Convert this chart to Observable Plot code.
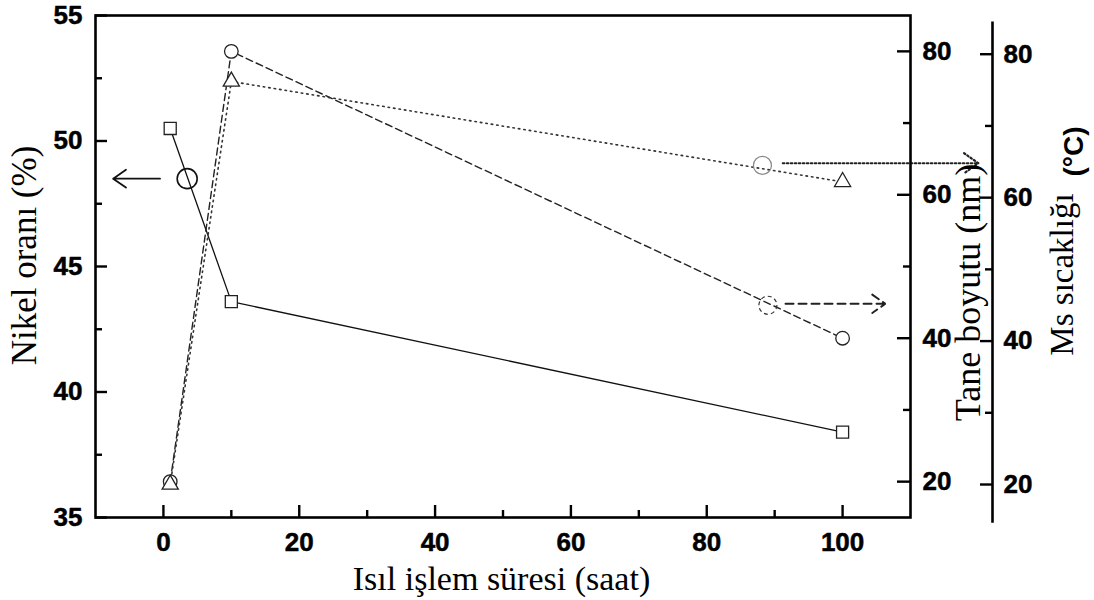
<!DOCTYPE html>
<html>
<head>
<meta charset="utf-8">
<script src="https://cdn.jsdelivr.net/npm/d3@7"></script>
<script src="https://cdn.jsdelivr.net/npm/@observablehq/plot@0.6"></script>
<style>
  html, body { margin: 0; padding: 0; background: #fff; }
  #chart svg { display: block; }
</style>
</head>
<body>
<div id="chart"></div>
<script>
// ---- data ----
const hours = [1, 10, 100];
const nickelPct = [50.5, 43.6, 38.4];      // Nikel oranı (%) - squares, solid
const grainNm = [20, 80, 40];              // Tane boyutu (nm) - circles, dashed
const msTempC = [20, 76.2, 62.2];          // Ms sıcaklığı (°C) - triangles, dotted

const xMajorTicks = [0, 20, 40, 60, 80, 100];
const xMinorTicks = [10, 30, 50, 70, 90];
const nickelMajorTicks = [35, 40, 45, 50, 55];
const nickelMinorTicks = [37.5, 42.5, 47.5, 52.5];
const nmMajorTicks = [20, 40, 60, 80];
const nmMinorTicks = [30, 50, 70];
const msMajorTicks = [20, 40, 60, 80];
const msMinorTicks = [30, 50, 70];
const msAxisExtent = [14.6, 84.5];

// annotations (data units)
const nickelMarkCircle = [{x: 3.5, y: 48.5}];
const nickelArrow = [{x1: -0.5, x2: -7.4, y: 48.5}];
const msMarkCircle = [{x: 88.2, y: 64.5}];
const msArrow = [{x1: 91.2, x2: 120.0, y: 64.8}];
const nmMarkCircle = [{x: 89.0, y: 44.6}];
const nmArrow = [{x1: 91.6, x2: 106.3, y: 44.8}];

// ---- secondary axes mapped onto the primary (Nikel %) scale ----
const nmToY = d3.scaleLinear([15, 85], [35, 55]);
const msToY = v => nmToY(v - 0.4);

const W = 1094, H = 600;
const mL = 95, mR = 184, mT = 15, mB = 83;
const PW = W - mL - mR, PH = H - mT - mB;
const MS_DX = 82;

const nickelData = hours.map((h, i) => ({h, v: nickelPct[i]}));
const nmData = hours.map((h, i) => ({h, v: nmToY(grainNm[i])}));
const msData = hours.map((h, i) => ({h, v: msToY(msTempC[i])}));

const sans = "Liberation Sans, Arial, Helvetica, sans-serif";
const serif = "Liberation Serif, Times New Roman, serif";
const tickFont = {fontSize: 26, fontWeight: "bold", fontFamily: sans, fill: "#000", stroke: "#000", strokeWidth: 0.5};

const chart = Plot.plot({
  width: W, height: H,
  marginLeft: mL, marginRight: mR, marginTop: mT, marginBottom: mB,
  style: {background: "#fff"},
  x: {domain: [-10, 110], axis: null},
  y: {domain: [35, 55], axis: null},
  marks: [
    // series lines
    Plot.line(nickelData, {x: "h", y: "v", stroke: "#111", strokeWidth: 1.3}),
    Plot.line(nmData, {x: "h", y: "v", stroke: "#222", strokeWidth: 1.4, strokeDasharray: "7,4"}),
    Plot.line(msData, {x: "h", y: "v", stroke: "#333", strokeWidth: 1.6, strokeDasharray: "1.5,4"}),
    // series markers
    Plot.dot(nmData, {x: "h", y: "v", symbol: "circle", r: 6.8, fill: "#fff", stroke: "#222", strokeWidth: 1.3}),
    Plot.dot(msData, {x: "h", y: "v", symbol: "triangle", r: 6, fill: "#fff", stroke: "#222", strokeWidth: 1.3}),
    Plot.dot(nickelData, {x: "h", y: "v", symbol: "square", r: 6.8, fill: "#fff", stroke: "#222", strokeWidth: 1.3}),
    // annotations
    Plot.dot(nickelMarkCircle, {x: "x", y: "y", r: 10, stroke: "#111", strokeWidth: 1.6, fill: "none"}),
    Plot.arrow(nickelArrow, {x1: "x1", x2: "x2", y1: "y", y2: "y", stroke: "#111", strokeWidth: 1.8, headLength: 14, headAngle: 70}),
    Plot.dot(msMarkCircle, {x: "x", y: d => msToY(d.y), r: 9, stroke: "#888", strokeWidth: 1.2, fill: "none"}),
    Plot.arrow(msArrow, {x1: "x1", x2: "x2", y1: d => msToY(d.y), y2: d => msToY(d.y), stroke: "#222", strokeWidth: 2.2, strokeDasharray: "1.5,2.5", headLength: 12, headAngle: 70}),
    Plot.dot(nmMarkCircle, {x: "x", y: d => nmToY(d.y), r: 9, stroke: "#333", strokeWidth: 1.2, strokeDasharray: "4,3", fill: "none"}),
    Plot.arrow(nmArrow, {x1: "x1", x2: "x2", y1: d => nmToY(d.y), y2: d => nmToY(d.y), stroke: "#222", strokeWidth: 2, strokeDasharray: "8,5", headLength: 12, headAngle: 70}),
    // frame
    Plot.frame({stroke: "#000", strokeWidth: 2.6}),
    // bottom axis ticks (inward)
    Plot.tickX(xMajorTicks, {x: d => d, insetTop: PH - 12, stroke: "#000", strokeWidth: 2.4}),
    Plot.tickX(xMinorTicks, {x: d => d, insetTop: PH - 7, stroke: "#000", strokeWidth: 2.4}),
    Plot.text(xMajorTicks, {x: d => d, text: d => String(d), frameAnchor: "bottom", dy: 25, lineAnchor: "middle", ...tickFont}),
    // left axis ticks (inward)
    Plot.tickY(nickelMajorTicks, {y: d => d, insetRight: PW - 12, stroke: "#000", strokeWidth: 2.4}),
    Plot.tickY(nickelMinorTicks, {y: d => d, insetRight: PW - 7, stroke: "#000", strokeWidth: 2.4}),
    Plot.text(nickelMajorTicks, {y: d => d, text: d => String(d), frameAnchor: "left", textAnchor: "end", dx: -13, lineAnchor: "middle", ...tickFont}),
    // right axis (nm), ticks inward
    Plot.tickY(nmMajorTicks, {y: d => nmToY(d), insetLeft: PW - 13, stroke: "#000", strokeWidth: 2.4}),
    Plot.tickY(nmMinorTicks, {y: d => nmToY(d), insetLeft: PW - 7, stroke: "#000", strokeWidth: 2.4}),
    Plot.text(nmMajorTicks, {y: d => nmToY(d), text: d => String(d), frameAnchor: "right", textAnchor: "start", dx: 12, lineAnchor: "middle", ...tickFont}),
    // offset Ms axis
    Plot.ruleX([110], {x: d => d, y1: msToY(msAxisExtent[0]), y2: msToY(msAxisExtent[1]), dx: MS_DX, stroke: "#000", strokeWidth: 2.6}),
    Plot.tickY(msMajorTicks, {y: d => msToY(d), insetLeft: PW - 12, dx: MS_DX, stroke: "#000", strokeWidth: 2.4}),
    Plot.tickY(msMinorTicks, {y: d => msToY(d), insetLeft: PW - 7, dx: MS_DX, stroke: "#000", strokeWidth: 2.4}),
    Plot.text(msMajorTicks, {y: d => msToY(d), text: d => String(d), frameAnchor: "right", textAnchor: "start", dx: MS_DX + 11, lineAnchor: "middle", ...tickFont}),
    // axis titles
    Plot.text(["Isıl işlem süresi (saat)"], {frameAnchor: "bottom", textAnchor: "middle", dx: -1.5, dy: 62, lineAnchor: "middle", fontSize: 34, fontFamily: serif, fill: "#000"}),
    Plot.text(["Nikel oranı (%)"], {frameAnchor: "left", textAnchor: "middle", dx: -71, dy: -11, rotate: -90, lineAnchor: "middle", fontSize: 35, fontFamily: serif, fill: "#000"}),
    Plot.text(["Tane boyutu (nm)"], {frameAnchor: "right", textAnchor: "middle", dx: 58, dy: 26, rotate: -90, lineAnchor: "middle", fontSize: 36, fontFamily: serif, fill: "#000"}),
    Plot.text(["Ms sıcaklığı"], {frameAnchor: "right", textAnchor: "middle", dx: 152, dy: 8, rotate: -90, lineAnchor: "middle", fontSize: 33, fontFamily: serif, fill: "#000"}),
    Plot.text(["(°C)"], {frameAnchor: "right", textAnchor: "middle", dx: 164, dy: -115, rotate: -90, lineAnchor: "middle", fontSize: 28, fontWeight: "bold", fontFamily: sans, fill: "#000"})
  ]
});
document.getElementById("chart").appendChild(chart);
</script>
</body>
</html>
